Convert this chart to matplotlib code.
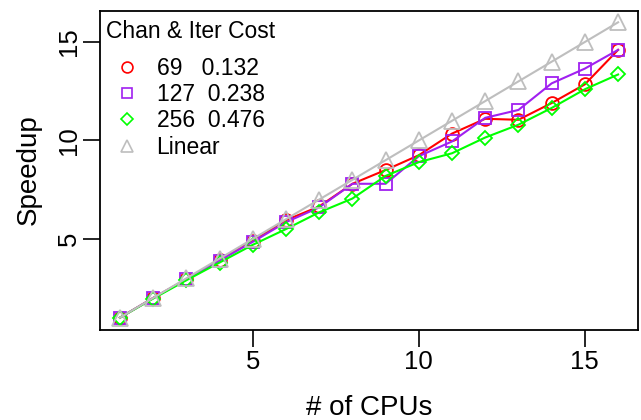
import numpy as np
import matplotlib
matplotlib.use("Agg")
import matplotlib.pyplot as plt
from matplotlib.lines import Line2D

# ==============================================================================
# DATA
# ==============================================================================
cpus = np.arange(1, 17)

speedup_69 = [1.0, 2.0, 2.95, 3.95, 4.9, 5.95, 6.65, 7.8, 8.5, 9.25,
              10.35, 11.1, 11.05, 11.9, 12.85, 14.6]
speedup_127 = [1.0, 2.0, 2.95, 3.9, 4.85, 5.85, 6.6, 7.8, 7.8, 9.2,
               9.95, 11.15, 11.55, 12.9, 13.65, 14.6]
speedup_256 = [1.0, 1.97, 2.9, 3.8, 4.7, 5.5, 6.35, 7.05, 8.2, 8.9,
               9.35, 10.15, 10.8, 11.65, 12.6, 13.35]
speedup_lin = list(cpus)

legend_title = "Chan & Iter Cost"
labels = ["69   0.132", "127  0.238", "256  0.476", "Linear"]
colors = ["#FF0000", "#A020F0", "#00FF00", "#BEBEBE"]
markers = ["o", "s", "D", "^"]
msizes = [9.2, 8.6, 7.2, 11.0]

x_ticks = [5, 10, 15]
y_ticks = [5, 10, 15]

# ==============================================================================
# PLOT
# ==============================================================================
plt.rcParams["font.family"] = ["Liberation Sans", "DejaVu Sans"]

fig = plt.figure(figsize=(6.41, 4.2), dpi=100)
ax = fig.add_axes([100 / 641, 1 - 329.5 / 420, 538 / 641, 319 / 420])

series = [speedup_69, speedup_127, speedup_256, speedup_lin]
for ys, c, m, ms in zip(series, colors, markers, msizes):
    ax.plot(cpus, ys, color=c, lw=1.5, marker=m, ms=ms,
            markerfacecolor="none", markeredgecolor=c, markeredgewidth=1.3)

ax.set_xlim(0.4, 16.6)
ax.set_ylim(0.4, 16.6)
ax.set_xticks(x_ticks)
ax.set_yticks(y_ticks)
ax.tick_params(axis="both", length=12, width=1.2, labelsize=18.5, colors="black")
ax.tick_params(axis="x", pad=3)
ax.tick_params(axis="y", pad=2)
for lab in ax.get_yticklabels():
    lab.set_rotation(90)
    lab.set_va("center")
for sp in ax.spines.values():
    sp.set_linewidth(1.3)

ax.set_xlabel("# of CPUs", fontsize=20, labelpad=15)
ax.set_ylabel("Speedup", fontsize=20, labelpad=11)

# legend: title as separate text, entries below it
ax.text(0.011, 0.933, legend_title, transform=ax.transAxes, fontsize=16.5,
        ha="left", va="center")
handles = [Line2D([], [], color=c, lw=0, marker=m, ms=ms * 0.85,
                  markerfacecolor="none", markeredgecolor=c, markeredgewidth=1.2)
           for c, m, ms in zip(colors, markers, msizes)]
leg = ax.legend(handles, labels, loc="upper left",
                bbox_to_anchor=(0.0242, 0.854), frameon=False, fontsize=16.5,
                handlelength=1.2, handletextpad=0.7, labelspacing=0.14,
                borderaxespad=0.0, borderpad=0.0)

fig.savefig("out.png", dpi=100)
